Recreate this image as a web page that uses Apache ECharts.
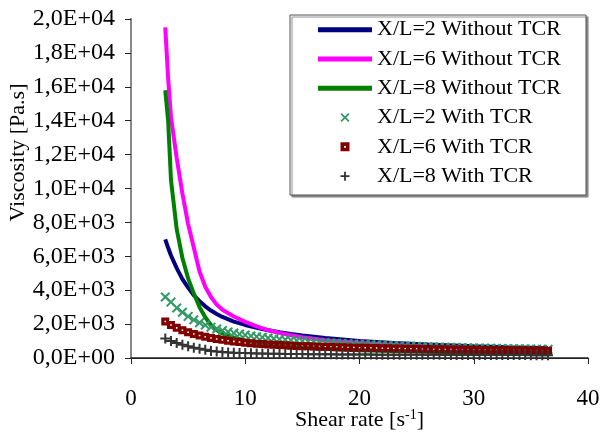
<!DOCTYPE html>
<html>
<head>
<meta charset="utf-8">
<script src="https://cdn.jsdelivr.net/npm/echarts@6/dist/echarts.min.js"></script>
<style>
  html, body { margin: 0; padding: 0; background: #fff; }
  #main { width: 600px; height: 434px; }
</style>
</head>
<body>
<div id="main"></div>
<script>
// shear rate points of the curves without TCR
var lineX = [3, 3.25, 3.5, 4, 4.5, 5, 5.5, 6, 6.5, 7, 7.5, 8, 9, 10, 11, 12, 13, 14, 15, 17, 20, 23, 26, 30, 33, 36.5];
var noTcr2 = [7000, 6500, 6050, 5300, 4650, 4150, 3700, 3350, 3050, 2800, 2600, 2420, 2150, 1950, 1780, 1640, 1520, 1420, 1330, 1180, 1010, 890, 800, 700, 640, 580];
var noTcr6 = [19500, 16500, 14200, 11800, 9700, 7900, 6500, 5100, 4200, 3600, 3150, 2850, 2450, 2130, 1870, 1650, 1480, 1340, 1220, 1050, 880, 760, 670, 580, 530, 480];
var noTcr8 = [15800, 14000, 10500, 7600, 5900, 4700, 3800, 3000, 2400, 1950, 1650, 1450, 1200, 1030, 900, 800, 730, 670, 620, 540, 460, 410, 370, 320, 290, 270];

// shear rate points of the measured curves with TCR
var tcrX = [3, 3.5, 4, 4.5, 5, 5.5, 6, 6.5, 7, 7.5, 8, 8.5, 9, 9.5, 10, 10.5, 11, 11.5, 12, 12.5,
  13, 13.5, 14, 14.5, 15, 15.5, 16, 16.5, 17, 17.5, 18, 18.5, 19, 19.5, 20, 20.5, 21, 21.5, 22, 22.5,
  23, 23.5, 24, 24.5, 25, 25.5, 26, 26.5, 27, 27.5, 28, 28.5, 29, 29.5, 30, 30.5, 31, 31.5, 32, 32.5,
  33, 33.5, 34, 34.5, 35, 35.5, 36, 36.5];
var tcr2 = [3600, 3300, 2950, 2700, 2450, 2250, 2080, 1940, 1820, 1710, 1620, 1540, 1470, 1410, 1350, 1300, 1260, 1220, 1180, 1140,
  1110, 1080, 1050, 1020, 1000, 975, 950, 930, 910, 890, 870, 850, 835, 820, 805, 790, 775, 760, 750, 735,
  725, 715, 700, 690, 680, 670, 660, 650, 645, 635, 625, 620, 610, 600, 595, 585, 580, 570, 565, 560,
  550, 545, 540, 535, 530, 520, 515, 510];
var tcr6 = [2150, 1950, 1780, 1640, 1520, 1420, 1330, 1250, 1180, 1120, 1070, 1020, 980, 940, 905, 875, 845, 820, 800, 780,
  760, 745, 730, 715, 700, 690, 680, 670, 660, 650, 640, 630, 620, 612, 605, 598, 590, 583, 576, 570,
  563, 557, 550, 545, 540, 534, 528, 522, 517, 512, 507, 502, 497, 492, 488, 483, 478, 474, 470, 465,
  461, 457, 453, 449, 445, 441, 437, 433];
var tcr8 = [1150, 1000, 880, 780, 690, 610, 540, 480, 420, 380, 350, 330, 315, 300, 290, 280, 272, 265, 258, 252,
  247, 242, 238, 234, 230, 227, 224, 221, 218, 215, 213, 211, 209, 207, 205, 203, 201, 199, 198, 196,
  195, 193, 192, 190, 189, 188, 187, 186, 185, 184, 183, 182, 181, 180, 179, 178, 177, 176, 175, 174,
  173, 172, 171, 170, 169, 168, 167, 166];

var names = ['X/L=2 Without TCR', 'X/L=6 Without TCR', 'X/L=8 Without TCR',
             'X/L=2 With TCR', 'X/L=6 With TCR', 'X/L=8 With TCR'];
var colors = ['#000080', '#ff00ff', '#008000', '#339966', '#800000', '#333333'];

function pairs(xs, ys) {
  return xs.map(function (x, i) { return [x, ys[i]]; });
}

function sci(v) {
  if (v === 0) return '0,0E+00';
  var e = Math.floor(Math.log10(v) + 1e-9);
  var m = v / Math.pow(10, e);
  return m.toFixed(1).replace('.', ',') + 'E+' + (e < 10 ? '0' + e : e);
}

var FONT = 'Liberation Serif';
var plusPath = 'path://M4,0H6V4H10V6H6V10H4V6H0V4H4Z';
var crossPath = 'path://M0,1.4L1.4,0L5,3.6L8.6,0L10,1.4L6.4,5L10,8.6L8.6,10L5,6.4L1.4,10L0,8.6L3.6,5Z';
var boxPath = 'path://M0,0H10V10H0Z M4,4V6H6V4Z';
var barPath = 'path://M0,0H54V5H0Z';

function lineSeries(i, ys) {
  return {
    name: names[i], type: 'line', data: pairs(lineX, ys),
    showSymbol: false, symbol: 'none',
    lineStyle: { color: colors[i], width: 4 },
    itemStyle: { color: colors[i] },
    z: 2
  };
}

function markSeries(i, ys, symbol, size) {
  return {
    name: names[i], type: 'scatter', data: pairs(tcrX, ys),
    symbol: symbol, symbolSize: size,
    itemStyle: { color: colors[i], opacity: 1 },
    z: 3
  };
}

var chart = echarts.init(document.getElementById('main'));

chart.setOption({
  animation: false,
  backgroundColor: '#fff',
  textStyle: { fontFamily: FONT },
  grid: { left: 131, right: 12, top: 19, bottom: 76, containLabel: false, outerBoundsMode: 'none' },
  graphic: [{
    type: 'rect',
    shape: { x: 290, y: 15, width: 296, height: 180 },
    style: { fill: '#fff', stroke: '#555', lineWidth: 1,
             shadowColor: '#888', shadowOffsetX: 2, shadowOffsetY: 2, shadowBlur: 1 },
    z: 10
  }],
  legend: {
    orient: 'vertical',
    left: 318, top: 15,
    padding: 0,
    itemGap: 0,
    itemWidth: 54,
    itemHeight: 9,
    z: 20,
    lineStyle: { width: 0, opacity: 0 },
    data: names.map(function (n, i) {
      if (i < 3) return { name: n, icon: barPath, itemStyle: { color: colors[i] } };
      return { name: n };
    }),
    textStyle: { fontFamily: FONT, fontSize: 22, color: '#000', lineHeight: 29.3 }
  },
  xAxis: [{
    type: 'value', min: 0, max: 40, interval: 10,
    name: 'Shear rate [s{sup|-1}]',
    nameLocation: 'middle', nameGap: 50, nameMoveOverlap: false,
    nameTextStyle: {
      fontFamily: FONT, fontSize: 22, color: '#000',
      rich: { sup: { fontFamily: FONT, fontSize: 14, verticalAlign: 'top', padding: [0, 0, 10, 0] } }
    },
    axisLine: { lineStyle: { color: '#222', width: 1.5 } },
    axisTick: { length: 6, lineStyle: { color: '#222' } },
    axisLabel: { fontFamily: FONT, fontSize: 23, color: '#000', margin: 29 },
    splitLine: { show: false }
  }, {
    type: 'value', min: 0, max: 40, position: 'top',
    axisLine: { lineStyle: { color: '#222', width: 1 } },
    axisTick: { show: false }, axisLabel: { show: false }, splitLine: { show: false }
  }],
  yAxis: [{
    type: 'value', min: 0, max: 20000, interval: 2000,
    name: 'Viscosity [Pa.s]',
    nameLocation: 'middle', nameGap: 102, nameMoveOverlap: false,
    nameTextStyle: { fontFamily: FONT, fontSize: 22, color: '#000', padding: [0, 0, 0, 72] },
    axisLine: { lineStyle: { color: '#222', width: 1.5 } },
    axisTick: { length: 6, lineStyle: { color: '#222' } },
    axisLabel: { fontFamily: FONT, fontSize: 24, color: '#000', margin: 16, formatter: sci },
    splitLine: { show: false }
  }, {
    type: 'value', min: 0, max: 20000, position: 'right',
    axisLine: { lineStyle: { color: '#888', width: 2 } },
    axisTick: { show: false }, axisLabel: { show: false }, splitLine: { show: false }
  }],
  series: [
    lineSeries(0, noTcr2),
    lineSeries(1, noTcr6),
    lineSeries(2, noTcr8),
    markSeries(3, tcr2, crossPath, 10),
    markSeries(4, tcr6, boxPath, 8),
    markSeries(5, tcr8, plusPath, 10)
  ]
});
</script>
</body>
</html>
